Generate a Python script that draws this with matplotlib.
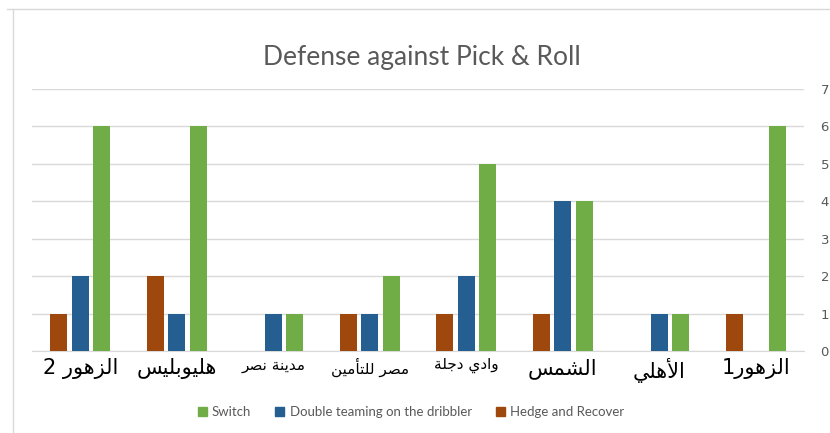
import matplotlib.pyplot as plt
import numpy as np
from matplotlib.patches import Patch
from matplotlib.lines import Line2D

# البيانات
teams = ['الزهور 2', 'هليوبليس', 'مدينة نصر', 'مصر للتأمين',
         'وادي دجلة', 'الشمس', 'الأهلي', 'الزهور1']
label_sizes = [15, 15, 11, 11, 11, 15, 15, 15]
hedge = [1, 2, 0, 1, 1, 1, 0, 1]
double = [2, 1, 1, 1, 2, 4, 1, 0]
switch = [6, 6, 1, 2, 5, 4, 1, 6]
yticks = [0, 1, 2, 3, 4, 5, 6, 7]

# matplotlib لا يشكل الحروف العربية، لذلك نستعمل أشكال العرض يدويا
FORMS = {
    'ا': ('\uFE8D', '\uFE8E'), 'أ': ('\uFE83', '\uFE84'),
    'د': ('\uFEA9', '\uFEAA'), 'ر': ('\uFEAD', '\uFEAE'),
    'ز': ('\uFEAF', '\uFEB0'), 'و': ('\uFEED', '\uFEEE'),
    'ة': ('\uFE93', '\uFE94'),
    'ب': ('\uFE8F', '\uFE90', '\uFE91', '\uFE92'),
    'ت': ('\uFE95', '\uFE96', '\uFE97', '\uFE98'),
    'ج': ('\uFE9D', '\uFE9E', '\uFE9F', '\uFEA0'),
    'س': ('\uFEB1', '\uFEB2', '\uFEB3', '\uFEB4'),
    'ش': ('\uFEB5', '\uFEB6', '\uFEB7', '\uFEB8'),
    'ص': ('\uFEB9', '\uFEBA', '\uFEBB', '\uFEBC'),
    'ل': ('\uFEDD', '\uFEDE', '\uFEDF', '\uFEE0'),
    'م': ('\uFEE1', '\uFEE2', '\uFEE3', '\uFEE4'),
    'ن': ('\uFEE5', '\uFEE6', '\uFEE7', '\uFEE8'),
    'ه': ('\uFEE9', '\uFEEA', '\uFEEB', '\uFEEC'),
    'ي': ('\uFEF1', '\uFEF2', '\uFEF3', '\uFEF4'),
    'لا': ('\uFEFB', '\uFEFC'), 'لأ': ('\uFEF7', '\uFEF8'),
}


def shape(text):
    toks = []
    i = 0
    while i < len(text):
        if text[i] == 'ل' and i + 1 < len(text) and text[i + 1] in 'اأ':
            toks.append(text[i:i + 2])
            i += 2
        else:
            toks.append(text[i])
            i += 1
    out = []
    for k, t in enumerate(toks):
        if t not in FORMS:
            out.append(t)
            continue
        f = FORMS[t]
        prev = k > 0 and toks[k - 1] in FORMS and len(FORMS[toks[k - 1]]) == 4
        nxt = len(f) == 4 and k + 1 < len(toks) and toks[k + 1] in FORMS
        if prev and nxt:
            out.append(f[3])
        elif prev:
            out.append(f[1])
        elif nxt:
            out.append(f[2])
        else:
            out.append(f[0])
    return ''.join(reversed(out))


c_hedge = '#9E480E'
c_double = '#255E91'
c_switch = '#70AD47'
grey = '#595959'

fig = plt.figure(figsize=(8.3, 4.33), dpi=100)
ax = fig.add_axes([0.0386, 0.1894, 0.930, 0.605])

x = np.arange(len(teams))
w = 0.176
off = 0.222
ax.bar(x - off, hedge, w, color=c_hedge, zorder=3)
ax.bar(x, double, w, color=c_double, zorder=3)
ax.bar(x + off, switch, w, color=c_switch, zorder=3)

ax.set_xlim(-0.5, len(teams) - 0.5)
ax.set_ylim(0, 7)
ax.yaxis.tick_right()
ax.set_yticks(yticks)
ax.tick_params(axis='y', length=0, pad=12, labelsize=9.5, labelcolor=grey)
ax.tick_params(axis='x', length=0, pad=5)
ax.set_xticks(x)
ax.set_xticklabels([shape(t) for t in teams], family='DejaVu Sans')
for lab, s in zip(ax.get_xticklabels(), label_sizes):
    lab.set_fontsize(s)
ax.grid(axis='y', color='#D9D9D9', linewidth=1, zorder=0)
for sp in ['top', 'left', 'right']:
    ax.spines[sp].set_visible(False)
ax.spines['bottom'].set_color('#D9D9D9')

fig.text(0.508, 1 - 57 / 433, 'Defense against Pick & Roll', ha='center', va='center',
         fontsize=19, color=grey, family='Lato')

handles = [Patch(color=c_switch, label='Switch'),
           Patch(color=c_double, label='Double teaming on the dribbler'),
           Patch(color=c_hedge, label='Hedge and Recover')]
leg = fig.legend(handles=handles, loc='center', bbox_to_anchor=(0.495, 1 - 412 / 433),
                 ncol=3, frameon=False, handlelength=0.7, handleheight=0.7,
                 handletextpad=0.4, columnspacing=1.8, prop={'family': 'Lato', 'size': 9.5})
for t in leg.get_texts():
    t.set_color(grey)

# إطار المخطط
fig.add_artist(Line2D([13 / 830, 13 / 830], [0, 1 - 9 / 433], color='#D9D9D9', lw=1))
fig.add_artist(Line2D([7 / 830, 1], [1 - 9 / 433, 1 - 9 / 433], color='#D9D9D9', lw=1))

fig.savefig('out.png', dpi=100)
